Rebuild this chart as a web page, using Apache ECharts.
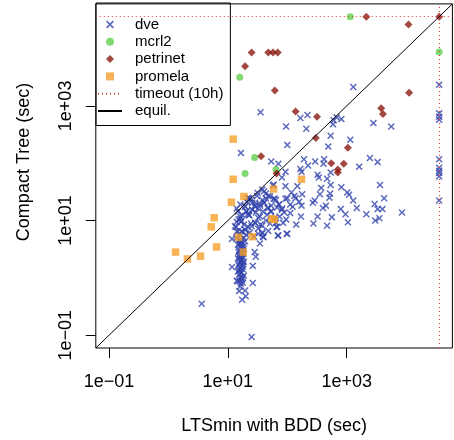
<!DOCTYPE html>
<html>
<head>
<meta charset="utf-8">
<script src="https://cdn.jsdelivr.net/npm/echarts@6/dist/echarts.min.js"></script>
<style>
html, body { margin: 0; padding: 0; background: #fff; }
#main { width: 454px; height: 440px; }
</style>
</head>
<body>
<div id="main"></div>
<script>
// all runtimes below are log10(seconds)
var timeoutSec = 36000; // 10h
var tickValues = [0.1, 10, 1000];
var tickLabels = ["1e\u221201", "1e+01", "1e+03"];

var dveLog = [
  [1.55,2.89],[3.11,3.33],[4.556,3.37],[4.556,2.87],[4.556,2.81],[4.556,2.76],[2.22,2.79],[2.34,2.84],
  [1.98,2.64],[2.32,2.60],[2.78,2.75],[2.83,2.80],[2.91,2.77],[2.77,2.68],[3.45,2.70],[3.75,2.64],
  [2.73,2.48],[3.06,2.41],[2.00,2.32],[2.69,2.29],[2.28,2.07],[2.47,2.03],[2.62,2.07],[2.61,1.99],
  [2.35,1.96],[2.22,1.90],[2.24,1.85],[1.91,1.75],[2.73,1.84],[2.53,1.75],[2.67,1.73],[3.21,1.94],
  [3.39,2.09],[3.52,2.02],[4.556,2.07],[4.556,1.92],[4.556,1.87],[4.556,1.83],[4.556,1.77],[4.556,1.35],
  [1.73,2.03],[1.85,1.99],[1.97,1.85],[1.77,1.63],[1.97,1.60],[2.17,1.60],[2.57,1.57],[2.73,1.62],
  [2.91,1.58],[3.56,1.62],[2.07,1.49],[2.12,1.43],[2.14,1.39],[1.97,1.38],[2.00,1.39],[1.77,1.38],
  [1.81,1.36],[2.25,1.46],[2.72,1.47],[2.71,1.40],[3.01,1.49],[3.04,1.45],[3.63,1.39],[3.11,1.35],
  [2.46,1.35],[2.43,1.31],[2.20,1.33],[2.24,1.26],[2.05,1.28],[2.09,1.24],[1.83,1.23],[1.91,1.21],
  [2.65,1.26],[2.60,1.22],[2.90,1.20],[3.17,1.22],[3.47,1.29],[3.52,1.20],[3.60,1.20],[3.93,1.14],
  [3.33,1.11],[2.98,1.11],[2.75,1.06],[2.51,1.07],[2.44,0.95],[2.67,0.91],[3.02,0.97],[3.48,1.00],
  [3.55,1.04],[2.05,1.13],[2.15,0.93],[1.98,1.02],[1.93,0.96],[1.87,1.07],[1.81,0.96],[1.77,1.02],
  [1.99,0.77],[1.85,0.74],[2.23,1.07],[2.55,1.46],[2.51,1.80],
  // dense cluster just right of 10 s
  [1.58,1.54],[1.49,1.43],[1.64,1.47],[1.37,1.38],[1.71,1.42],[1.34,1.40],[1.58,1.36],[1.79,1.38],
  [1.21,1.28],[1.29,1.24],[1.41,1.31],[1.46,1.26],[1.54,1.29],[1.61,1.31],[1.68,1.22],[1.73,1.26],
  [1.86,1.28],[1.15,1.21],[1.32,1.33],[1.51,1.21],[1.17,1.16],[1.24,1.10],[1.31,1.16],[1.36,1.09],
  [1.41,1.19],[1.47,1.14],[1.54,1.07],[1.59,1.16],[1.66,1.10],[1.73,1.16],[1.79,1.05],[1.21,1.03],
  [1.34,1.12],[1.91,1.19],[1.95,1.14],[1.15,0.98],[1.22,0.98],[1.27,0.93],[1.34,0.89],[1.39,0.95],
  [1.46,0.96],[1.51,0.86],[1.58,0.91],[1.64,1.00],[1.71,0.95],[1.83,0.89],[1.14,0.89],[1.29,0.84],
  [1.17,0.81],[1.24,0.81],[1.31,0.75],[1.37,0.79],[1.44,0.72],[1.51,0.77],[1.58,0.79],[1.59,0.72],
  [1.68,0.82],[1.21,0.74],[1.27,0.70],[1.14,0.70],[1.84,0.74],[2.00,0.77],
  [1.22,2.18],[1.76,1.61],[1.50,1.48],[1.68,1.43],[1.64,1.39],[1.40,1.36],[1.61,1.31],[1.54,1.26],
  [1.67,1.22],[1.72,1.16],[1.86,1.28],[1.46,1.31],[1.45,1.25],[1.41,1.19],[1.29,1.25],[1.32,1.16],
  [1.35,1.10],[1.21,1.07],[1.18,1.02],[1.23,0.99],[1.51,1.05],[1.55,0.93],[1.46,0.96],[1.40,0.90],
  [1.29,0.84],[1.23,0.81],[1.58,0.78],[1.60,0.71],[1.82,0.89],[1.12,0.90],[1.15,0.81],[1.07,0.68],
  [1.21,0.67],[1.29,0.64],[1.61,1.51],[1.35,1.39],
  // column below the cluster
  [1.21,0.65],[1.25,0.62],[1.17,0.58],[1.22,0.55],[1.27,0.51],[1.19,0.48],[1.24,0.44],[1.21,0.41],
  [1.25,0.37],[1.17,0.34],[1.22,0.30],[1.27,0.28],[1.19,0.25],[1.24,0.21],[1.21,0.18],[1.25,0.15],
  [1.17,0.11],[1.22,0.08],[1.27,0.04],[1.21,0.01],[1.24,-0.03],[1.17,-0.06],[1.25,-0.08],[1.19,0.60],
  [1.24,0.49],[1.19,0.39],[1.24,0.34],[1.21,0.27],[1.25,0.20],[1.19,0.13],
  [1.20,0.57],[1.23,0.52],[1.18,0.45],[1.26,0.42],[1.20,0.36],[1.23,0.31],[1.18,0.22],[1.26,0.24],
  [1.20,0.16],[1.23,0.10],[1.19,0.06],[1.25,0.00],[1.20,-0.04],[1.22,-0.10],[1.26,0.55],[1.22,0.62],
  [1.54,0.60],[1.45,0.45],[1.47,0.37],[1.07,0.19],[1.42,0.21],[1.42,-0.09],[1.40,-1.03],[0.56,-0.45],
  [1.15,-0.05],[1.21,-0.15],[1.19,-0.23],[1.29,-0.22],[1.30,-0.32],[1.24,-0.38]
];
var mcrl2Log = [[3.06,4.556],[4.556,3.94],[1.20,3.50],[1.45,2.10],[1.29,1.82],[1.81,1.89]];
var petrinetLog = [
  [3.33,4.556],[4.556,4.556],[4.04,4.42],[1.40,3.93],[1.68,3.93],[1.76,3.93],[1.84,3.93],[1.29,3.69],
  [1.79,3.27],[4.05,3.23],[2.14,2.90],[2.50,2.81],[3.58,2.96],[3.61,2.86],[1.56,2.12],[1.82,1.82],
  [2.48,2.44],[3.02,2.27],[2.74,2.00],[2.95,1.99],[2.85,1.89],[2.85,1.84]
];
var promelaLog = [
  [1.09,2.42],[1.09,1.72],[1.06,1.32],[1.27,1.42],[1.77,1.55],[2.24,1.72],[1.74,1.03],[1.78,1.02],
  [1.18,0.71],[1.41,0.72],[0.77,1.05],[0.72,0.89],[1.26,0.45],[0.81,0.54],[0.12,0.45],[0.32,0.33],
  [0.54,0.38]
];

// both axes: 0.1 s .. timeout, widened by 4% on the log scale like R does
var loLog = Math.log10(0.1), hiLog = Math.log10(timeoutSec);
var padLog = (hiLog - loLog) * 0.04;
var axisMin = Math.pow(10, loLog - padLog);
var axisMax = Math.pow(10, hiLog + padLog);

function toSec(list) {
  return list.map(function (p) { return [Math.pow(10, p[0]), Math.pow(10, p[1])]; });
}
function tickLabel(v) {
  var i = tickValues.findIndex(function (t) { return Math.abs(Math.log10(t) - Math.log10(v)) < 1e-6; });
  return i < 0 ? "" : tickLabels[i];
}

var font = "Liberation Sans, Arial, Helvetica, sans-serif";
var crossPath = "path://M0,1.5L1.5,0L5,3.5L8.5,0L10,1.5L6.5,5L10,8.5L8.5,10L5,6.5L1.5,10L0,8.5L3.5,5Z";
var diamondPath = "path://M5,0L10,5L5,10L0,5Z";
var squarePath = "path://M0,0L10,0L10,10L0,10Z";

var myChart = echarts.init(document.getElementById("main"));
var option = {
  animation: false,
  textStyle: { fontFamily: font },
  grid: {
    left: 95.8, top: 3.9, width: 356.6, height: 344.6,
    show: true, borderColor: "#000", borderWidth: 1, backgroundColor: "transparent"
  },
  legend: {
    orient: "vertical", left: 96, top: 3,
    padding: [14, 7, 7, 1],
    itemWidth: 24, itemHeight: 8, itemGap: 2.3,
    symbolKeepAspect: true,
    borderColor: "#000", borderWidth: 1, borderRadius: 0,
    textStyle: { fontSize: 15, color: "#000", fontFamily: font, lineHeight: 15, padding: [0, 0, 0, 8] },
    data: [
      "dve", "mcrl2", "petrinet", "promela",
      { name: "timeout (10h)", itemStyle: { opacity: 0 } },
      { name: "equil.", itemStyle: { opacity: 0 } }
    ]
  },
  xAxis: {
    type: "log", logBase: 10, min: axisMin, max: axisMax,
    name: "LTSmin with BDD (sec)", nameLocation: "middle", nameGap: 69,
    nameTextStyle: { fontSize: 18, color: "#000", fontFamily: font },
    axisLine: { show: false },
    splitLine: { show: false },
    minorTick: { show: false },
    axisTick: { show: true, inside: false, length: 10, customValues: tickValues, lineStyle: { color: "#000" } },
    axisLabel: { customValues: tickValues, formatter: tickLabel, margin: 25, fontSize: 18, color: "#000", fontFamily: font }
  },
  yAxis: {
    type: "log", logBase: 10, min: axisMin, max: axisMax,
    name: "Compact Tree (sec)", nameLocation: "middle", nameGap: 63, nameRotate: 90,
    nameTextStyle: { fontSize: 18, color: "#000", fontFamily: font, padding: [0, 0, 0, 28] },
    axisLine: { show: false },
    splitLine: { show: false },
    minorTick: { show: false },
    axisTick: { show: true, inside: false, length: 10, customValues: tickValues, lineStyle: { color: "#000" } },
    axisLabel: { customValues: tickValues, formatter: tickLabel, rotate: 90, margin: 21, fontSize: 18, color: "#000", fontFamily: font }
  },
  series: [
    {
      name: "dve", type: "scatter", symbol: crossPath, symbolSize: 7,
      itemStyle: { color: "#3345ad" }, data: toSec(dveLog)
    },
    {
      name: "mcrl2", type: "scatter", symbol: "circle", symbolSize: 7,
      itemStyle: { color: "#61d04f" }, data: toSec(mcrl2Log)
    },
    {
      name: "petrinet", type: "scatter", symbol: diamondPath, symbolSize: 8,
      itemStyle: { color: "#8b1a12" }, data: toSec(petrinetLog)
    },
    {
      name: "promela", type: "scatter", symbol: squarePath, symbolSize: 7.5,
      itemStyle: { color: "#f5a02a" }, data: toSec(promelaLog)
    },
    {
      name: "timeout (10h)", type: "line", symbol: "none", showSymbol: false, data: [],
      itemStyle: { color: "#e03a30" },
      lineStyle: { color: "#e03a30", width: 1.2, type: [1, 3] },
      markLine: {
        silent: true, symbol: "none", label: { show: false },
        lineStyle: { color: "#e03a30", width: 1.2, type: [1, 3] },
        data: [{ xAxis: timeoutSec }, { yAxis: timeoutSec }]
      }
    },
    {
      name: "equil.", type: "line", symbol: "none", showSymbol: false, z: 5,
      itemStyle: { color: "#000" },
      lineStyle: { color: "#000", width: 1 },
      data: [[axisMin, axisMin], [axisMax, axisMax]]
    }
  ]
};
myChart.setOption(option);
window.addEventListener("resize", function () { myChart.resize(); });
</script>
</body>
</html>
